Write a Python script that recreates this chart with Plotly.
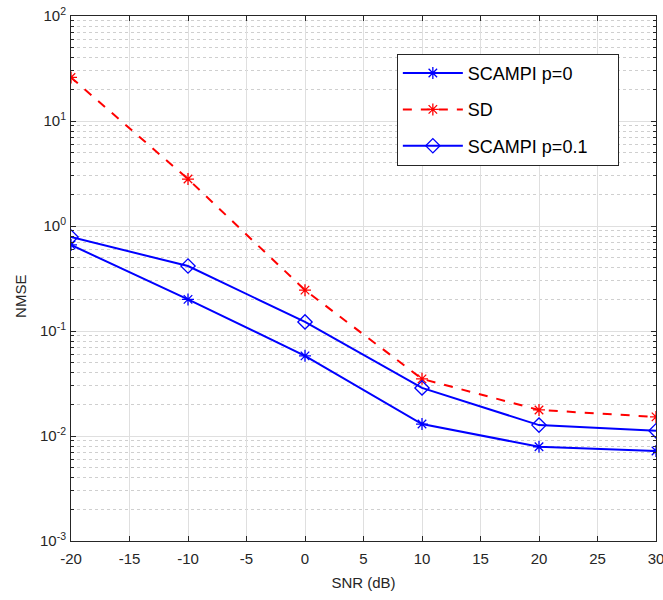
import plotly.graph_objects as go

snr = [-20, -10, 0, 10, 20, 30]
scampi_p0 = [0.66, 0.20, 0.058, 0.013, 0.0079, 0.0072]
sd = [26, 2.8, 0.245, 0.035, 0.0177, 0.0152]
scampi_p01 = [0.785, 0.416, 0.122, 0.0287, 0.0127, 0.0112]

x_ticks = [-20, -15, -10, -5, 0, 5, 10, 15, 20, 25, 30]
x_labels = ["-20", "-15", "-10", "-5", "0", "5", "10", "15", "20", "25", "30"]
y_ticks = [1e-3, 1e-2, 1e-1, 1e0, 1e1, 1e2]
y_labels = ["10<sup>-3</sup>", "10<sup>-2</sup>", "10<sup>-1</sup>", "10<sup>0</sup>", "10<sup>1</sup>", "10<sup>2</sup>"]

blue = "#0000FF"
red = "#FF0000"
FONT = "Liberation Sans, Arial"
PAD = "\u00a0" * 5

fig = go.Figure()
fig.add_trace(go.Scatter(x=snr, y=scampi_p0, name="SCAMPI p=0", mode="lines+markers", legendgroup="a",
                         line=dict(color=blue, width=2),
                         marker=dict(symbol="asterisk-open", size=10, color=blue, line=dict(color=blue, width=1.3))))
fig.add_trace(go.Scatter(x=snr, y=sd, name="SD", mode="lines+markers", legendgroup="b",
                         line=dict(color=red, width=2, dash="dash"),
                         marker=dict(symbol="asterisk-open", size=10, color=red, line=dict(color=red, width=1.3))))
fig.add_trace(go.Scatter(x=snr, y=scampi_p01, name="SCAMPI p=0.1" + PAD, mode="lines+markers", legendgroup="c",
                         line=dict(color=blue, width=2),
                         marker=dict(symbol="diamond-open", size=11, color=blue, line=dict(color=blue, width=1.3))))

axis_common = dict(showline=True, linecolor="#262626", linewidth=1, mirror="ticks",
                   ticks="inside", tickcolor="#262626", ticklen=5, automargin=False,
                   ticklabeloverflow="allow",
                   gridcolor="#DFDFDF", gridwidth=1, zeroline=False,
                   tickfont=dict(family=FONT, size=15, color="#262626"))

fig.update_xaxes(range=[-20, 30], tickvals=x_ticks, ticktext=x_labels, ticklabelstandoff=4, **axis_common,
                 title=dict(text="SNR (dB)", font=dict(family=FONT, size=15, color="#262626"), standoff=11))
fig.update_yaxes(type="log", range=[-3, 2], tickvals=y_ticks, ticktext=y_labels, ticklabelstandoff=1, **axis_common,
                 minor=dict(dtick="D1", showgrid=True, gridcolor="#CFCFCF", griddash="dot", gridwidth=1,
                            ticks="inside", ticklen=3, tickcolor="#262626"))

fig.add_annotation(text="NMSE", xref="paper", yref="paper", x=-50 / 585, y=0.465,
                   textangle=-90, showarrow=False, xanchor="center", yanchor="middle",
                   font=dict(family=FONT, size=15, color="#262626"))

fig.update_layout(
    width=663, height=600,
    margin=dict(l=71, r=7, t=16, b=59),
    plot_bgcolor="white", paper_bgcolor="white",
    showlegend=True,
    legend=dict(x=0.557, y=0.928, xanchor="left", yanchor="top",
                bgcolor="white", bordercolor="#262626", borderwidth=1,
                font=dict(family=FONT, size=18, color="black"),
                itemwidth=60, tracegroupgap=10),
)

# remove the default 8px body margin so the figure fills the window exactly
fig.write_html("out.html", config={"displayModeBar": False},
               post_script="document.body.style.margin='0';document.body.style.overflow='hidden';")
